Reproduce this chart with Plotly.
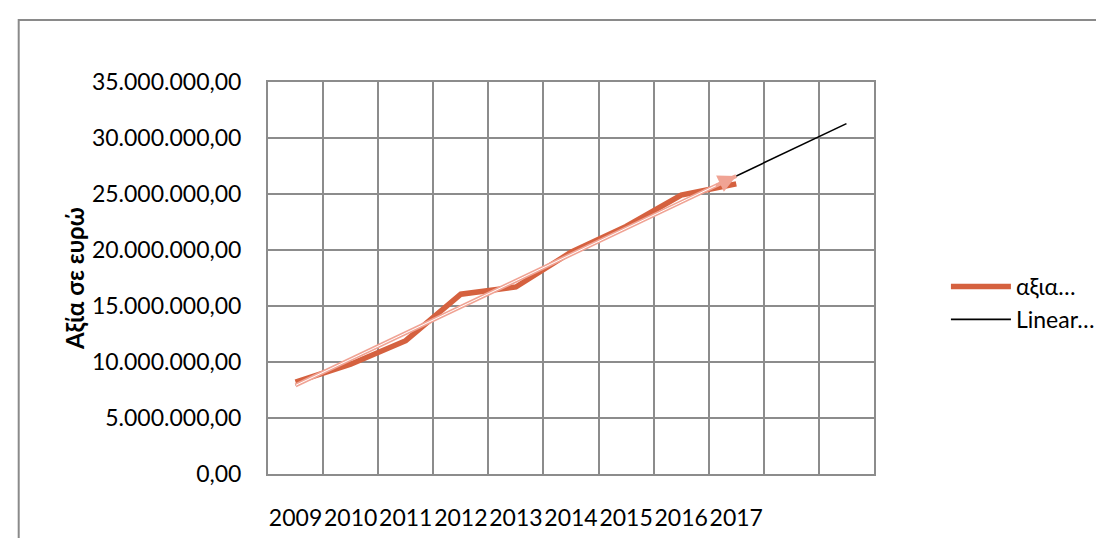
import numpy as np
import plotly.graph_objects as go

# values
years = ["2009", "2010", "2011", "2012", "2013", "2014", "2015", "2016", "2017"]
axia = [8200000, 9800000, 11900000, 16050000, 16700000, 19800000, 22100000, 24900000, 25900000]
y_ticks = [0, 5000000, 10000000, 15000000, 20000000, 25000000, 30000000, 35000000]
y_tick_labels = ["0,00", "5.000.000,00", "10.000.000,00", "15.000.000,00",
                 "20.000.000,00", "25.000.000,00", "30.000.000,00", "35.000.000,00"]
forecast_periods = 2

idx = np.arange(len(years))
slope, intercept = np.polyfit(idx, axia, 1)
trend_x = np.arange(len(years) + forecast_periods)
trend_y = slope * trend_x + intercept
fit_x = idx
fit_y = slope * fit_x + intercept

FONT = "Lato, Carlito, Calibri, sans-serif"
GRID = "#8c8c8c"

fig = go.Figure()
fig.add_trace(go.Scatter(x=idx, y=axia, mode="lines", name="αξια…",
                         line=dict(color="#d5613f", width=5.5)))
fig.add_trace(go.Scatter(x=trend_x, y=trend_y, mode="lines", name="Linear…",
                         line=dict(color="black", width=1.6)))
# pale overlay of the fitted part
fig.add_trace(go.Scatter(x=fit_x, y=fit_y, mode="lines", showlegend=False,
                         line=dict(color="#f0a394", width=4)))
fig.add_trace(go.Scatter(x=fit_x, y=fit_y, mode="lines", showlegend=False,
                         line=dict(color="white", width=1)))

fig.add_annotation(x=fit_x[-1], y=fit_y[-1], ax=fit_x[-1] - 0.4, ay=fit_y[-1] - 0.4 * slope,
                   axref="x", ayref="y", xref="x", yref="y", text="",
                   showarrow=True, arrowhead=2, arrowsize=1.2, arrowwidth=3,
                   arrowcolor="#f0a394")

fig.add_annotation(text="<b>Αξία σε ευρώ</b>", textangle=-90, xref="paper", yref="paper",
                   x=(63 - 260) / 615, y=0.5, xanchor="center", yanchor="middle",
                   showarrow=False, font=dict(family=FONT, size=24, color="black"))

# outer chart frame
fig.add_shape(type="rect", xref="paper", yref="paper",
              x0=(7 - 260) / 615, x1=1.5, y0=-0.5, y1=(466 - 12) / 392,
              line=dict(color="#8a8a8a", width=2), fillcolor="rgba(0,0,0,0)", layer="below")

fig.update_layout(
    width=1104, height=538,
    margin=dict(l=260, r=229, t=74, b=72),
    paper_bgcolor="white", plot_bgcolor="white",
    font=dict(family=FONT, size=23, color="black"),
    legend=dict(x=(948 - 260) / 615, xanchor="left", y=(466 - 295) / 392, yanchor="middle",
                font=dict(family=FONT, size=23, color="black"),
                itemwidth=60, bgcolor="rgba(0,0,0,0)", tracegroupgap=0),
    xaxis=dict(range=[-0.5, len(trend_x) - 0.5], tickmode="array", tickvals=list(idx),
               ticktext=years, tickangle=0, showgrid=False, zeroline=False, ticks="",
               ticklabelstandoff=22,
               showline=True, linecolor=GRID, linewidth=2, mirror=True,
               minor=dict(tick0=-0.5, dtick=1, showgrid=True, gridcolor=GRID, gridwidth=2)),
    yaxis=dict(range=[0, 35000000], tickmode="array", tickvals=y_ticks, ticktext=y_tick_labels,
               showgrid=True, gridcolor=GRID, gridwidth=2, zeroline=False, ticks="",
               ticklabelstandoff=20,
               showline=True, linecolor=GRID, linewidth=2, mirror=True),
)

fig.write_html("out.html")
